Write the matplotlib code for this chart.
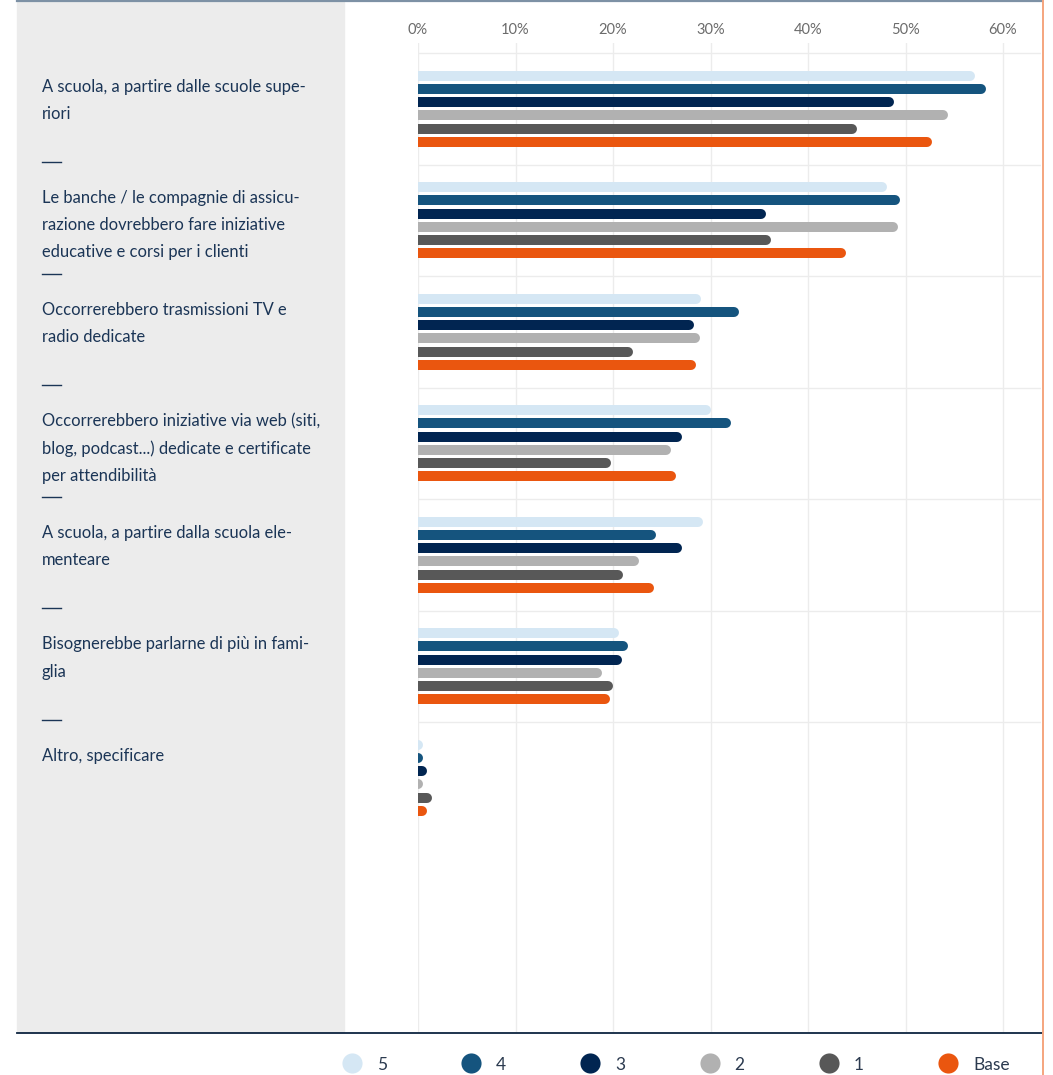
import matplotlib
matplotlib.use("Agg")
import matplotlib.pyplot as plt
from matplotlib.patches import Rectangle

plt.rcParams['font.family'] = ['Lato', 'DejaVu Sans']

# Categorie (righe già spezzate come nel pannello di sinistra)
categorie = [
    ["A scuola, a partire dalle scuole supe-", "riori"],
    ["Le banche / le compagnie di assicu-", "razione dovrebbero fare iniziative",
     "educative e corsi per i clienti"],
    ["Occorrerebbero trasmissioni TV e", "radio dedicate"],
    ["Occorrerebbero iniziative via web (siti,", "blog, podcast...) dedicate e certificate",
     "per attendibilità"],
    ["A scuola, a partire dalla scuola ele-", "menteare"],
    ["Bisognerebbe parlarne di più in fami-", "glia"],
    ["Altro, specificare"],
]

# Percentuali per serie
serie_nomi = ["5", "4", "3", "2", "1", "Base"]
v5 = [57.1, 48.1, 29.0, 30.0, 29.2, 20.6, 0.3]
v4 = [58.3, 49.4, 32.9, 32.1, 24.4, 21.5, 0.25]
v3 = [48.8, 35.7, 28.3, 27.1, 27.1, 20.9, 0.9]
v2 = [54.4, 49.2, 28.9, 25.9, 22.7, 18.9, 0.25]
v1 = [45.0, 36.2, 22.1, 19.8, 21.0, 20.0, 1.45]
base = [52.7, 43.9, 28.5, 26.5, 24.2, 19.7, 0.9]
serie = [v5, v4, v3, v2, v1, base]
colori = ["#d5e7f4", "#15547e", "#012551", "#b1b1b1", "#585858", "#ea560f"]

xticks = [0, 10, 20, 30, 40, 50, 60]

# layout in pixel
W, H = 1053, 1075
PL, PR, PT, PB = 418, 1041, 43, 1032
BANDA = 111.5
PRIMA = 53
BAR_PX = 10
PASSO = 13.2
NAVY = "#1b3556"
GRID = "#ececec"

fig = plt.figure(figsize=(W / 100, H / 100), dpi=100)
ax = fig.add_axes([PL / W, 1 - PB / H, (PR - PL) / W, (PB - PT) / H])

xmax = (PR - PL) / 9.75
ax.set_xlim(0, xmax)
top = -(PRIMA - PT) / BANDA
ax.set_ylim(top + (PB - PT) / BANDA, top)

# barre con estremità arrotondata (il cappuccio sinistro viene tagliato dall'asse)
px_unit = (PR - PL) / xmax
cap = (BAR_PX / 2) / px_unit
for k, (vals, col) in enumerate(zip(serie, colori)):
    off = (k - 2.5) * PASSO / BANDA
    ys = [i + 0.5 + off for i in range(len(vals))]
    ax.hlines(ys, 0, [v - cap for v in vals], colors=col,
              lw=BAR_PX * 0.72, capstyle='round', zorder=3)

for i in range(len(categorie)):
    ax.axhline(i, color=GRID, lw=1, zorder=1)

ax.set_xticks(xticks)
ax.set_xticklabels([f"{t}%" for t in xticks])
ax.xaxis.tick_top()
ax.tick_params(axis='x', length=0, pad=4.5, labelsize=10.5, labelcolor="#6b6b6b")
ax.set_yticks([])
ax.grid(axis='x', color=GRID, lw=1, zorder=0)
for s in ax.spines.values():
    s.set_visible(False)

# livello sovrapposto in coordinate pixel
ov = fig.add_axes([0, 0, 1, 1], zorder=5)
ov.set_xlim(0, W)
ov.set_ylim(H, 0)
ov.axis('off')

ov.add_patch(Rectangle((17, 2), PL - 74 - 17, PB - 2, color="#ececec", zorder=0))
ov.plot([17, PR + 1], [1, 1], color="#7d91a5", lw=1.6)
ov.plot([17, PR + 1], [PB + 0.5, PB + 0.5], color="#0d2440", lw=1.3)
ov.plot([PR + 1.5, PR + 1.5], [0, H], color="#f5a57e", lw=1.4)

for i, righe in enumerate(categorie):
    y0 = PRIMA + i * BANDA
    for r, testo in enumerate(righe):
        ov.text(42, y0 + 34 + 27 * r, testo, ha='left', va='center',
                fontsize=11.9, color=NAVY)
    if i < len(categorie) - 1:
        ov.plot([42, 61], [y0 + 109, y0 + 109], color=NAVY, lw=1)

# legenda
for j, (nome, col) in enumerate(zip(serie_nomi, colori)):
    cx = 352 + 119.2 * j
    ov.plot(cx, 1063, 'o', ms=14.5, color=col, mec='none')
    ov.text(cx + 25, 1065, nome, ha='left', va='center', fontsize=12.5, color="#2b3a4f")

fig.savefig("out.png", dpi=100)
